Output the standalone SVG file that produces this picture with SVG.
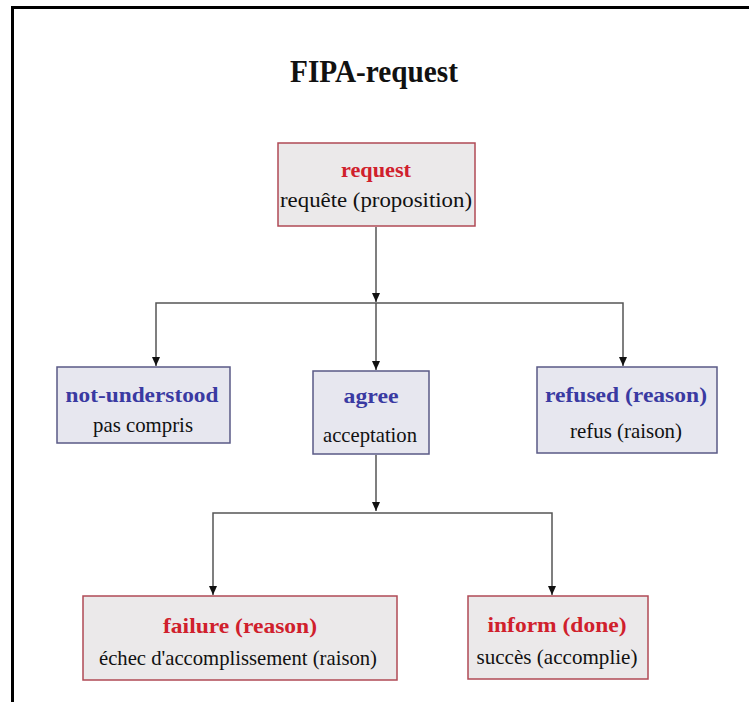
<svg xmlns="http://www.w3.org/2000/svg" width="749" height="702" viewBox="0 0 749 702">
  <defs>
    <!-- filled triangular arrowhead, drawn along +x so orient="auto" points it down each stem -->
    <marker id="arrow" markerWidth="9" markerHeight="8" refX="9" refY="4" orient="auto-start-reverse" markerUnits="userSpaceOnUse" viewBox="0 0 9 8">
      <path d="M0,0 L9,4 L0,8 Z" fill="#111"/>
    </marker>
    <style>
      .frame { stroke: #000; stroke-width: 3; fill: none; }
      .title { font-family: "Liberation Serif", "Times New Roman", serif; font-weight: bold; font-size: 32px; fill: #111; text-anchor: middle; }
      .box-red { fill: #ebe9ea; stroke: #b04a55; stroke-width: 1.5; }
      .box-blue { fill: #e7e7ef; stroke: #5a5a86; stroke-width: 1.5; }
      .head { font-family: "Liberation Serif", "Times New Roman", serif; font-weight: bold; font-size: 22px; text-anchor: middle; }
      .red { fill: #d0202c; }
      .blue { fill: #3a3aa2; }
      .sub { font-family: "Liberation Serif", "Times New Roman", serif; font-size: 21px; fill: #111; text-anchor: middle; }
      .link { stroke: #555; stroke-width: 1.5; fill: none; }
    </style>
  </defs>

  <rect width="749" height="702" fill="#fff"/>
  <!-- page frame: top and left rules -->
  <path class="frame" d="M12.5,702 L12.5,7.5 L749,7.5"/>

  <text class="title" x="374" y="82" textLength="168" lengthAdjust="spacingAndGlyphs">FIPA-request</text>

  <!-- connectors -->
  <g id="connectors">
    <path class="link" d="M376,227 L376,302" marker-end="url(#arrow)"/>
    <path class="link" d="M156,366 L156,303 L623,303 L623,366" marker-start="url(#arrow)" marker-end="url(#arrow)"/>
    <path class="link" d="M376,303 L376,370" marker-end="url(#arrow)"/>
    <path class="link" d="M376,455 L376,511" marker-end="url(#arrow)"/>
    <path class="link" d="M213,595 L213,513 L552,513 L552,595" marker-start="url(#arrow)" marker-end="url(#arrow)"/>
  </g>

  <g id="node-request">
    <rect class="box-red" x="278" y="143" width="197" height="83"/>
    <text class="head red" x="376" y="177" textLength="70" lengthAdjust="spacingAndGlyphs">request</text>
    <text class="sub" x="376" y="207" textLength="192" lengthAdjust="spacingAndGlyphs">requête (proposition)</text>
  </g>

  <g id="node-not-understood">
    <rect class="box-blue" x="57" y="367" width="173" height="76"/>
    <text class="head blue" x="142" y="402" textLength="153" lengthAdjust="spacingAndGlyphs">not-understood</text>
    <text class="sub" x="143" y="432" textLength="100" lengthAdjust="spacingAndGlyphs">pas compris</text>
  </g>

  <g id="node-agree">
    <rect class="box-blue" x="313" y="371" width="116" height="83"/>
    <text class="head blue" x="371" y="403" textLength="55" lengthAdjust="spacingAndGlyphs">agree</text>
    <text class="sub" x="370" y="442" textLength="94" lengthAdjust="spacingAndGlyphs">acceptation</text>
  </g>

  <g id="node-refused">
    <rect class="box-blue" x="537" y="367" width="180" height="86"/>
    <text class="head blue" x="626" y="402" textLength="162" lengthAdjust="spacingAndGlyphs">refused (reason)</text>
    <text class="sub" x="626" y="438" textLength="112" lengthAdjust="spacingAndGlyphs">refus (raison)</text>
  </g>

  <g id="node-failure">
    <rect class="box-red" x="83" y="596" width="314" height="84"/>
    <text class="head red" x="240" y="633" textLength="154" lengthAdjust="spacingAndGlyphs">failure (reason)</text>
    <text class="sub" x="238" y="665" textLength="278" lengthAdjust="spacingAndGlyphs">échec d'accomplissement (raison)</text>
  </g>

  <g id="node-inform">
    <rect class="box-red" x="468" y="596" width="180" height="83"/>
    <text class="head red" x="557" y="632" textLength="139" lengthAdjust="spacingAndGlyphs">inform (done)</text>
    <text class="sub" x="557" y="664" textLength="161" lengthAdjust="spacingAndGlyphs">succès (accomplie)</text>
  </g>
</svg>
